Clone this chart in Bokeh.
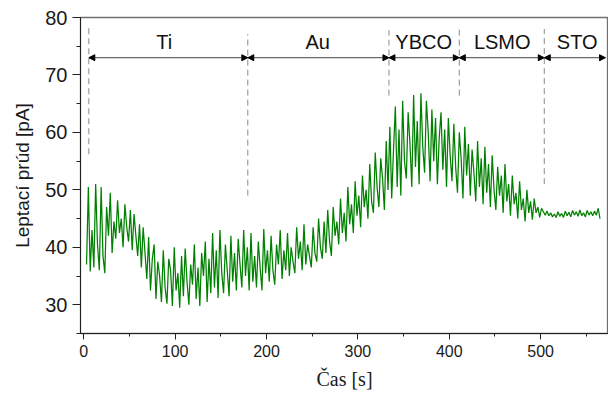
from bokeh.plotting import figure
from bokeh.models import (Range1d, SingleIntervalTicker, Arrow, NormalHead, Label,
                          Title)
from bokeh.embed import file_html
from bokeh.resources import INLINE

# ---- data ----
time_start = 3
time_step = 2
current_pA = [
    37.0, 50.5, 35.8, 43.0, 36.5, 51.0, 40.5, 36.0, 50.5, 38.5,
    35.5, 47.0, 42.0, 49.5, 39.0, 44.5, 41.5, 48.2, 42.5, 45.0,
    40.0, 47.5, 43.5, 41.0, 46.5, 39.5, 45.8, 42.0, 38.5, 44.0,
    36.5, 43.5, 39.0, 34.5, 41.8, 32.5, 38.0, 40.5, 31.0, 37.5,
    35.0, 30.5, 39.5, 33.0, 30.2, 38.0, 36.0, 29.8, 40.0, 32.5,
    35.5, 29.5, 38.5, 31.5, 39.8, 34.0, 30.0, 37.0, 33.5, 40.5,
    31.0, 36.5, 29.8, 39.0, 35.0, 41.0, 30.5, 38.0, 32.0, 42.5,
    33.0, 39.5, 31.2, 43.0, 35.5, 32.0, 40.5, 36.0, 31.5, 42.0,
    34.0, 39.0, 32.5, 41.5, 37.0, 33.0, 43.0, 35.0, 40.0, 32.5,
    42.5, 34.0, 38.5, 33.0, 41.0, 36.5, 32.5, 43.2, 35.5, 39.5,
    34.0, 42.0, 36.0, 33.5, 40.5, 37.0, 43.0, 34.5, 39.5, 36.0,
    42.5, 35.0, 40.0, 37.5, 35.5, 43.5, 38.0, 41.0, 36.0, 44.0,
    37.0, 40.5, 38.5, 36.5, 43.5, 39.0, 37.5, 45.0, 40.0, 38.0,
    44.5, 39.0, 46.5, 41.0, 38.5, 47.0, 42.0, 44.5, 40.5, 48.5,
    42.5, 46.0, 41.0, 50.5, 44.0, 47.5, 42.5, 51.5, 45.5, 49.0,
    43.5, 52.5, 47.0, 50.0, 45.0, 54.5, 48.0, 46.0, 56.5, 50.5,
    47.0, 55.5, 52.0, 46.5, 58.5, 50.0, 61.0, 48.5, 57.0, 64.5,
    50.5, 60.5, 49.0, 65.5, 55.0, 52.0, 63.5, 58.0, 50.5, 66.5,
    54.0, 62.0, 51.0, 66.8, 57.5, 53.0, 65.5, 60.0, 51.5, 64.0,
    55.0, 62.5, 51.0, 59.0, 63.5, 53.5, 60.5, 50.5, 62.5, 56.0,
    51.5, 61.5, 54.0, 49.5, 60.0, 55.5, 48.5, 61.0, 52.5, 58.0,
    49.0, 57.0, 53.0, 48.0, 58.5, 50.5, 55.5, 47.5, 57.5, 49.5,
    54.5, 47.0, 56.0, 50.0, 46.5, 54.0, 49.0, 52.5, 46.0, 54.5,
    48.0, 51.0, 45.5, 52.5, 47.5, 49.5, 45.0, 51.5, 46.5, 48.5,
    44.5, 50.0, 46.0, 48.0, 44.8, 48.5, 46.0, 47.0, 45.2, 46.8,
    46.2, 45.6, 46.3, 45.5, 46.0, 45.3, 45.8, 45.2, 46.2, 45.4,
    45.9, 45.2, 46.3, 45.5, 46.1, 45.3, 46.4, 45.6, 46.2, 45.4,
    46.5, 45.5, 46.0, 45.3, 46.4, 45.6, 46.2, 45.5, 46.3, 45.6,
    46.8, 45.0,
]
time_s = [time_start + time_step * i for i in range(len(current_pA))]

layer_names = ["Ti", "Au", "YBCO", "LSMO", "STO"]
layer_bounds = [5.5, 179.5, 334.0, 411.0, 504.0, 571.0]
layer_label_x = [88, 256, 372, 458, 540]
divider_x = [5.5, 179.5, 334.0, 411.0, 504.0]
divider_bottom = [56.2, 49.0, 66.4, 66.4, 51.0]
divider_top = [78.3, 77.1, 77.8, 78.0, 78.0]
arrow_y = 73.0
label_y = 75.8

FONT = "Liberation Sans"

p = figure(width=608, height=396, output_backend="svg", toolbar_location=None,
           x_range=Range1d(-3.6, 574.3), y_range=Range1d(25, 80),
           min_border_left=79, min_border_right=0, min_border_top=17,
           min_border_bottom=63)
p.outline_line_color = "#707070"
p.outline_line_width = 1.3
p.xgrid.grid_line_color = None
p.ygrid.grid_line_color = None
p.background_fill_color = "white"
p.border_fill_color = "white"

p.line(time_s, current_pA, line_color="#008000", line_width=1.25)

# dividers
p.segment(x0=divider_x, y0=divider_bottom, x1=divider_x, y1=divider_top,
          line_color="#8a8a8a", line_width=1, line_dash="6 4")

# arrows
for a, b in zip(layer_bounds[:-1], layer_bounds[1:]):
    p.add_layout(Arrow(x_start=a, y_start=arrow_y, x_end=b, y_end=arrow_y,
                       line_color="#444444", line_width=1,
                       start=NormalHead(size=6, fill_color="black", line_color="black"),
                       end=NormalHead(size=6, fill_color="black", line_color="black")))

for name, lx in zip(layer_names, layer_label_x):
    p.add_layout(Label(x=lx, y=label_y, text=name, text_align="center",
                       text_baseline="middle", text_font=FONT,
                       text_font_size="20px", text_color="#111111"))

# axes
for ax in (p.xaxis[0], p.yaxis[0]):
    ax.axis_line_color = "#222222"
    ax.major_tick_line_color = "#222222"
    ax.minor_tick_line_color = "#222222"
    ax.major_tick_in = 0
    ax.minor_tick_in = 0
    ax.major_label_text_font = FONT
    ax.major_label_text_color = "#1a1a1a"

p.xaxis.ticker = SingleIntervalTicker(interval=100, num_minor_ticks=2)
p.xaxis.major_tick_out = 6
p.xaxis.minor_tick_out = 3
p.xaxis.major_label_text_font_size = "16px"
p.xaxis.major_label_standoff = 5
p.xaxis.axis_label = "Čas [s]"
p.xaxis.axis_label_text_font = "Liberation Serif"
p.xaxis.axis_label_text_font_style = "normal"
p.xaxis.axis_label_text_font_size = "20px"
p.xaxis.axis_label_text_color = "#1a1a1a"
p.xaxis.axis_label_standoff = 8

p.yaxis.ticker = SingleIntervalTicker(interval=10, num_minor_ticks=2)
p.yaxis.major_tick_out = 8
p.yaxis.minor_tick_out = 4
p.yaxis.major_label_text_font_size = "20px"
p.yaxis.major_label_standoff = 5

ytitle = Title(text="Leptací prúd [pA]", align="center", offset=53,
               text_font=FONT, text_font_size="19px",
               text_font_style="normal", text_color="#1a1a1a")
if "standoff" in Title.properties():
    ytitle.standoff = 19
p.add_layout(ytitle, "left")

open("out.html", "w").write(file_html(p, INLINE))
